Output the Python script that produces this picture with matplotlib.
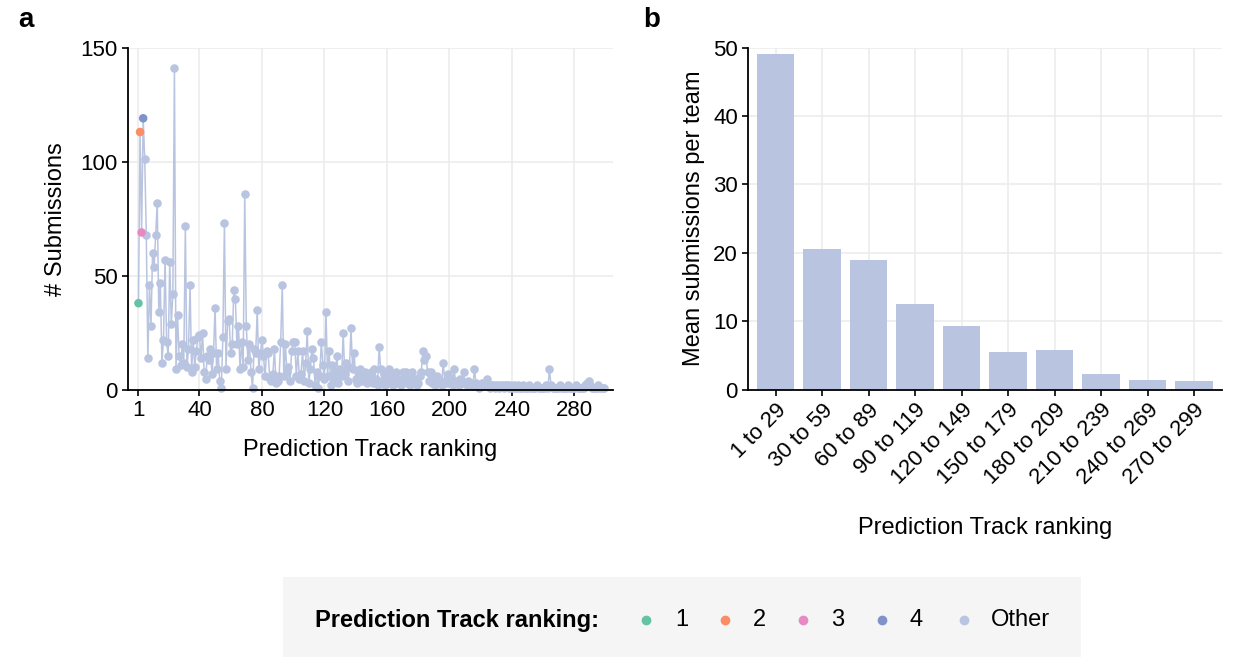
import numpy as np
import matplotlib
matplotlib.use("Agg")
import matplotlib.pyplot as plt
from matplotlib.lines import Line2D
from matplotlib.patches import Rectangle

plt.rcParams["font.family"] = ["Liberation Sans", "DejaVu Sans"]

# submissions per team, ordered by Prediction Track ranking (1..299)
SUBMISSIONS = [
    # 1-29
    38, 113, 69, 119, 101, 68, 14, 46, 28, 60, 54, 68, 82, 34, 47, 12, 22, 57, 21, 15,
    56, 29, 42, 141, 9, 33, 15, 11, 20,
    # 30-59
    12, 72, 10, 18, 46, 8, 22, 10, 17, 23, 24, 14, 25, 8, 5, 15, 13, 18, 7, 16,
    36, 9, 16, 4, 1, 23, 73, 9, 30, 31,
    # 60-89
    16, 20, 44, 40, 20, 28, 9, 21, 10, 86, 28, 13, 20, 8, 1, 18, 16, 35, 9, 16,
    22, 15, 6, 17, 16, 5, 4, 7, 18, 3,
    # 90-119
    4, 6, 21, 46, 6, 20, 8, 10, 4, 17, 21, 21, 6, 17, 5, 7, 17, 4, 12, 26,
    3, 9, 18, 14, 2, 8, 1, 6, 21, 11,
    # 120-149
    5, 34, 6, 17, 2, 11, 5, 8, 15, 3, 9, 6, 25, 7, 12, 4, 10, 27, 9, 16,
    5, 3, 7, 9, 4, 6, 8, 3, 5, 4,
    # 150-179
    8, 3, 9, 5, 2, 19, 9, 4, 7, 2, 5, 9, 3, 6, 2, 4, 8, 3, 5, 2,
    8, 4, 8, 3, 5, 2, 8, 3, 5, 2,
    # 180-209
    3, 6, 8, 17, 13, 15, 8, 4, 8, 3, 5, 2, 6, 3, 4, 2, 12, 4, 3, 7,
    3, 5, 2, 9, 3, 4, 2, 5, 3, 8,
    # 210-239
    3, 2, 4, 2, 3, 2, 9, 3, 2, 1, 2, 3, 2, 2, 5, 2, 1, 2, 2, 1,
    2, 2, 1, 2, 2, 1, 2, 2, 1, 2,
    # 240-269
    1, 2, 1, 1, 2, 1, 1, 2, 1, 1, 1, 2, 1, 1, 1, 1, 2, 1, 1, 1,
    1, 1, 2, 1, 9, 2, 1, 1, 1, 1,
    # 270-299
    1, 2, 1, 1, 1, 1, 2, 1, 1, 1, 1, 2, 1, 1, 1, 1, 1, 2, 3, 4,
    2, 1, 1, 1, 1, 2, 1, 1, 1, 1,
]
RANKS = list(range(1, len(SUBMISSIONS) + 1))

BINS = ["1 to 29", "30 to 59", "60 to 89", "90 to 119", "120 to 149",
        "150 to 179", "180 to 209", "210 to 239", "240 to 269", "270 to 299"]
BIN_MEANS = [49.1, 20.6, 19.0, 12.5, 9.4, 5.5, 5.8, 2.4, 1.46, 1.3]

RANK_LABELS = ["1", "2", "3", "4", "Other"]
RANK_COLORS = ["#66C2A5", "#FC8D62", "#E78AC3", "#7F93CA", "#B9C4E0"]

GRID = "#EBEBEB"
FS = 17
TICK_FS = 16


def style(ax):
    for s in ("top", "right"):
        ax.spines[s].set_visible(False)
    for s in ("left", "bottom"):
        ax.spines[s].set_linewidth(1.3)
        ax.spines[s].set_zorder(5)
    ax.grid(True, color=GRID, lw=1.1, zorder=0)
    ax.set_axisbelow(True)
    ax.tick_params(length=4, width=1.2, labelsize=TICK_FS, pad=3)


fig = plt.figure(figsize=(12.35, 6.57), dpi=100)

# --- a: submissions vs ranking ---
ax = fig.add_axes([0.1034, 0.4064, 0.3930, 0.5213])
style(ax)
other = RANK_COLORS[-1]
ax.plot(RANKS, SUBMISSIONS, color=other, lw=1.1, zorder=2)
ax.scatter(RANKS[4:], SUBMISSIONS[4:], s=38, color=other, lw=0, zorder=3, clip_on=False)
ax.scatter(RANKS[:4], SUBMISSIONS[:4], s=38, color=RANK_COLORS[:4], lw=0, zorder=4)
ax.set_xlim(-5.9, 304.7)
ax.set_ylim(0, 150)
ax.set_xticks([1] + list(range(40, 281, 40)))
ax.set_yticks([0, 50, 100, 150])
ax.set_xlabel("Prediction Track ranking", fontsize=FS, labelpad=13)
ax.set_ylabel("# Submissions", fontsize=FS, labelpad=10)

# --- b: mean submissions per ranking bin ---
bx = fig.add_axes([0.6054, 0.4064, 0.3840, 0.5213])
style(bx)
xpos = np.arange(len(BINS))
bx.bar(xpos, BIN_MEANS, width=0.8, color=other, zorder=2)
bx.set_xlim(-0.6, len(BINS) - 0.4)
bx.set_ylim(0, 50)
bx.set_yticks(range(0, 51, 10))
bx.set_xticks(xpos)
bx.set_xticklabels(BINS, rotation=45, ha="right", rotation_mode="anchor")
bx.set_xlabel("Prediction Track ranking", fontsize=FS, labelpad=20)
bx.set_ylabel("Mean submissions per team", fontsize=FS, labelpad=6)

fig.text(18 / 1235, 1 - 20 / 657, "a", fontsize=20, fontweight="bold", va="center")
fig.text(643 / 1235, 1 - 20 / 657, "b", fontsize=20, fontweight="bold", va="center")

# --- shared legend strip ---
W, H = 1235, 657
fig.add_artist(Rectangle((283 / W, 0), (1081 - 283) / W, (657 - 577) / H,
                         transform=fig.transFigure, facecolor="#F5F5F5",
                         edgecolor="none", zorder=0))
ly = 1 - 620 / H
fig.text(315 / W, ly, "Prediction Track ranking:", fontsize=FS, fontweight="bold",
         va="center", ha="left")
dot_x = [646, 725, 803, 882, 964]
txt_x = [675, 753, 831, 910, 991]
for lab, col, dx, tx in zip(RANK_LABELS, RANK_COLORS, dot_x, txt_x):
    fig.add_artist(Line2D([dx / W], [ly], marker="o", ms=6, color=col, lw=0,
                          transform=fig.transFigure))
    fig.text(tx / W, ly, lab, fontsize=FS, va="center", ha="left")

fig.savefig("out.png", dpi=100)
